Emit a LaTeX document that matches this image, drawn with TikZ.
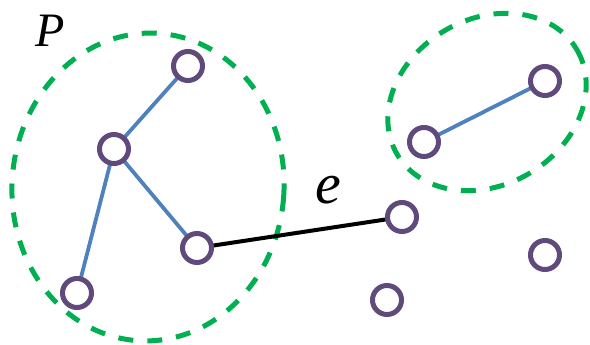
\documentclass[tikz,border=0pt]{standalone}
\usepackage{fontspec}
\setmainfont{Liberation Serif}
\definecolor{grp}{RGB}{0,176,80}
\definecolor{vtx}{RGB}{96,74,123}
\definecolor{edg}{RGB}{79,129,189}
\begin{document}
\begin{tikzpicture}[x=1pt,y=-1pt,
  vert/.style={circle,draw=vtx,line width=5pt,fill=white,minimum size=29pt,inner sep=0pt},
  grpline/.style={draw=grp,line width=5pt,dash pattern=on 15pt off 14pt},
  tedge/.style={draw=edg,line width=3.8pt},
  cut/.style={draw=black,line width=4pt},
  lbl/.style={font=\itshape}]
\useasboundingbox (0,0) rectangle (590,345);
\draw[grpline,rotate around={-4:(148,187)}] (148,187) ellipse [x radius=136, y radius=154];
\draw[grpline,rotate around={30:(487,102)}] (487,102) ellipse [x radius=104, y radius=83];
\coordinate (a) at (188,66);
\coordinate (b) at (114,149);
\coordinate (c) at (197,248);
\coordinate (d) at (77,293);
\coordinate (e) at (402,217);
\coordinate (f) at (424,142);
\coordinate (g) at (545,81);
\coordinate (h) at (545,255);
\coordinate (i) at (387,300);
\draw[tedge] (a) -- (b) -- (c);
\draw[tedge] (b) -- (d);
\draw[tedge] (f) -- (g);
\draw[cut] (c) -- (e);
\foreach \n in {a,b,c,d,e,f,g,h,i} \node[vert] (n\n) at (\n) {};
\node[lbl,font=\fontsize{48}{48}\selectfont\itshape] (P) at (50,31) {P};
\node[lbl,font=\fontsize{58}{58}\selectfont\itshape] (elab) at (328,190) {e};
\end{tikzpicture}
\end{document}
